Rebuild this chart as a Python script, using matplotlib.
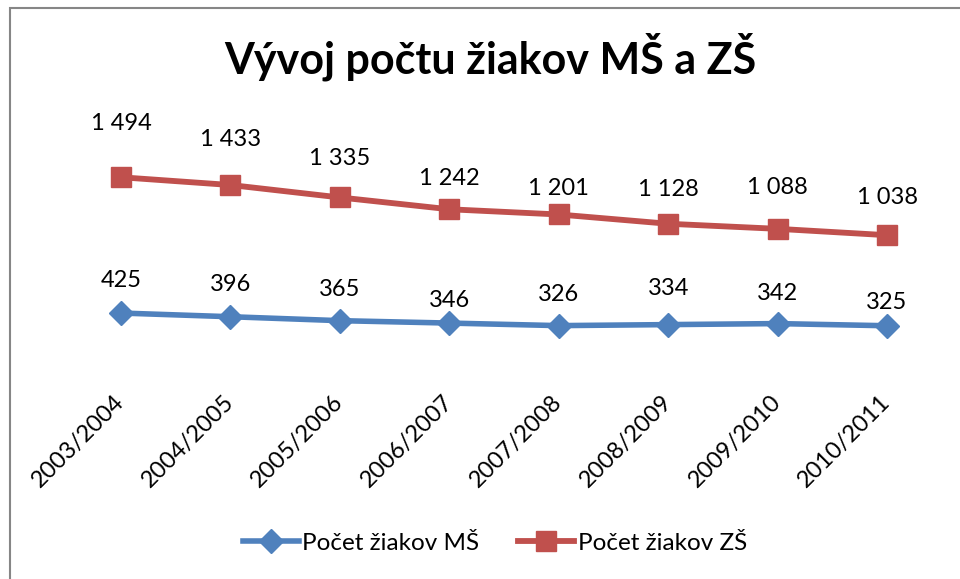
import matplotlib
matplotlib.use("Agg")
import matplotlib.pyplot as plt
from matplotlib.patches import Rectangle

# school years and pupil counts
years = ['2003/2004', '2004/2005', '2005/2006', '2006/2007',
         '2007/2008', '2008/2009', '2009/2010', '2010/2011']
ms_counts = [425, 396, 365, 346, 326, 334, 342, 325]
zs_counts = [1494, 1433, 1335, 1242, 1201, 1128, 1088, 1038]

# label offsets above the markers (pixels), as placed in the original
ms_label_off = [33, 32, 31, 23, 31, 36, 30, 23]
zs_label_off = [54, 46, 39, 31, 26, 34, 41, 38]

blue = '#4F81BD'
red = '#C0504D'
plt.rcParams['font.family'] = ['Lato', 'DejaVu Sans']

fig = plt.figure(figsize=(9.6, 5.79), dpi=100)
ax = fig.add_axes([0.0691, 0.3661, 0.9119, 0.351])

x = list(range(len(years)))
ax.plot(x, ms_counts, color=blue, lw=4, marker='D', ms=12,
        label='Počet žiakov MŠ')
ax.plot(x, zs_counts, color=red, lw=4.2, marker='s', ms=14,
        label='Počet žiakov ZŠ')

for xi, v, off in zip(x, ms_counts, ms_label_off):
    ax.annotate(f'{v:,}'.replace(',', ' '), (xi, v), xytext=(0, off),
                textcoords='offset pixels', ha='center', va='center',
                fontsize=17)
for xi, v, off in zip(x, zs_counts, zs_label_off):
    ax.annotate(f'{v:,}'.replace(',', ' '), (xi, v), xytext=(0, off),
                textcoords='offset pixels', ha='center', va='center',
                fontsize=17)

ax.set_xlim(-0.5, 7.5)
ax.set_ylim(0, 1600)
ax.set_yticks([])
ax.set_xticks(x)
ax.set_xticklabels(years, rotation=45, ha='right', va='center',
                   rotation_mode='anchor', fontsize=17)
ax.tick_params(axis='x', length=0, pad=23)
for s in ax.spines.values():
    s.set_visible(False)

fig.text(0.511, 1 - 74 / 579, 'Vývoj počtu žiakov MŠ a ZŠ', ha='center',
         va='baseline', fontsize=31, fontweight='bold')

fig.legend(loc='center', bbox_to_anchor=(495 / 960, 1 - 543 / 579), ncol=2,
           frameon=False, fontsize=17.5, handlelength=2.3,
           handletextpad=0.15, columnspacing=1.6)

# chart border (cropped on the right and bottom)
fig.patches.append(Rectangle((10 / 960, -0.1), 1.2, 1 - 7.5 / 579 + 0.1,
                             transform=fig.transFigure, fill=False,
                             edgecolor='#868686', lw=1.5))

fig.savefig('out.png', dpi=100)
